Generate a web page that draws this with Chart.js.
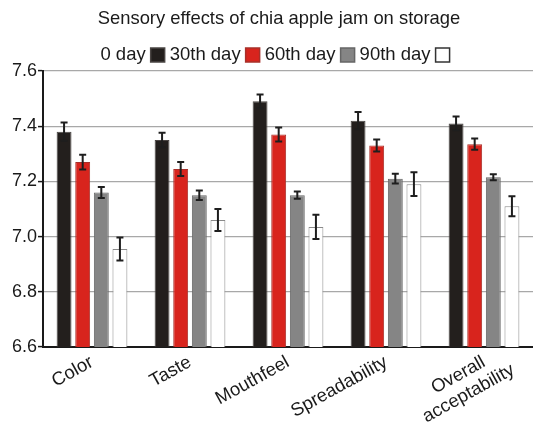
<!DOCTYPE html>
<html>
<head>
<meta charset="utf-8">
<script src="https://cdn.jsdelivr.net/npm/chart.js@4/dist/chart.umd.min.js"></script>
<style>
  body { margin: 0; background: #fff; }
  #wrap { width: 533px; height: 424px; }
</style>
</head>
<body>
<div id="wrap"><canvas id="jamChart" width="533" height="424"></canvas></div>
<script>
const categories = ['Color', 'Taste', 'Mouthfeel', 'Spreadability', ['Overall', 'acceptability']];
const seriesNames = ['0 day', '30th day', '60th day', '90th day'];
const day0 = [7.38, 7.35, 7.49, 7.42, 7.41];
const day30 = [7.27, 7.245, 7.37, 7.33, 7.335];
const day60 = [7.16, 7.15, 7.15, 7.21, 7.215];
const day90 = [6.955, 7.06, 7.035, 7.19, 7.11];
const day0Err = [0.033, 0.026, 0.025, 0.031, 0.025];
const day30Err = [0.027, 0.025, 0.025, 0.022, 0.020];
const day60Err = [0.020, 0.017, 0.013, 0.018, 0.011];
const day90Err = [0.042, 0.040, 0.044, 0.043, 0.036];
const yTicks = [6.6, 6.8, 7.0, 7.2, 7.4, 7.6];
const chartTitle = 'Sensory effects of chia apple jam on storage';

const fills = ['#231f1d', '#d8241d', '#858585', '#ffffff'];
const borders = ['#4a4543', '#a8302a', '#666666', '#8a8a8a'];
const errs = [day0Err, day30Err, day60Err, day90Err];
const font = 'Liberation Sans, Arial, sans-serif';

// error bars drawn on top of the bars
const errorBars = {
    id: 'errorBars',
    afterDatasetsDraw(chart) {
        const ctx = chart.ctx;
        const y = chart.scales.y;
        ctx.save();
        ctx.strokeStyle = '#1e1e1e';
        ctx.lineWidth = 2;
        chart.data.datasets.forEach((ds, i) => {
            const meta = chart.getDatasetMeta(i);
            meta.data.forEach((bar, j) => {
                const v = ds.data[j];
                const e = errs[i][j];
                const top = y.getPixelForValue(v + e);
                const bot = y.getPixelForValue(v - e);
                ctx.beginPath();
                ctx.moveTo(bar.x, top);
                ctx.lineTo(bar.x, bot);
                ctx.moveTo(bar.x - 3.5, top);
                ctx.lineTo(bar.x + 3.5, top);
                ctx.moveTo(bar.x - 3.5, bot);
                ctx.lineTo(bar.x + 3.5, bot);
                ctx.stroke();
            });
        });
        ctx.restore();
    }
};

// rotated category labels; two-line label is centred line to line like the source
const slantLabels = {
    id: 'slantLabels',
    afterDraw(chart) {
        const ctx = chart.ctx;
        const xs = chart.scales.x;
        const ang = -29 * Math.PI / 180;
        ctx.save();
        ctx.fillStyle = '#1a1a1a';
        ctx.font = '18.5px ' + font;
        ctx.textAlign = 'right';
        ctx.textBaseline = 'middle';
        categories.forEach((lab, i) => {
            const lines = Array.isArray(lab) ? lab : [lab];
            const w0 = ctx.measureText(lines[0]).width;
            ctx.save();
            ctx.translate(xs.getPixelForTick(i), xs.top + 14);
            ctx.rotate(ang);
            lines.forEach((ln, k) => {
                const w = ctx.measureText(ln).width;
                ctx.fillText(ln, (w - w0) / 2, k * 21);
            });
            ctx.restore();
        });
        ctx.restore();
    }
};

// title, and the legend: the source figure puts each label before its box
const header = {
    id: 'header',
    afterDraw(chart) {
        const ctx = chart.ctx;
        ctx.save();
        ctx.fillStyle = '#1a1a1a';
        ctx.textBaseline = 'middle';
        ctx.textAlign = 'center';
        ctx.font = '18.4px ' + font;
        ctx.fillText(chartTitle, 279, 19);

        ctx.textAlign = 'left';
        ctx.font = '18.5px ' + font;
        const box = 14, gapText = 5, gapItem = 5;
        let total = 0;
        seriesNames.forEach(n => { total += ctx.measureText(n).width + gapText + box + gapItem; });
        total -= gapItem;
        let x = 275 - total / 2;
        const yc = 55;
        seriesNames.forEach((n, i) => {
            ctx.fillStyle = '#1a1a1a';
            ctx.fillText(n, x, yc);
            x += ctx.measureText(n).width + gapText;
            ctx.fillStyle = fills[i];
            ctx.fillRect(x, yc - box / 2, box, box);
            ctx.strokeStyle = i === 3 ? '#333' : borders[i];
            ctx.lineWidth = 1.5;
            ctx.strokeRect(x, yc - box / 2, box, box);
            x += box + gapItem;
        });
        ctx.restore();
    }
};

new Chart(document.getElementById('jamChart').getContext('2d'), {
    type: 'bar',
    data: {
        labels: categories,
        datasets: [day0, day30, day60, day90].map((d, i) => ({
            label: seriesNames[i],
            data: d,
            backgroundColor: fills[i],
            borderColor: borders[i],
            borderWidth: 1,
            categoryPercentage: 0.76,
            barPercentage: 0.8
        }))
    },
    options: {
        responsive: false,
        animation: false,
        layout: { padding: { top: 71, right: 0, left: 2, bottom: 0 } },
        plugins: {
            legend: { display: false },
            tooltip: { enabled: false },
            title: { display: false }
        },
        scales: {
            x: {
                grid: { display: false },
                border: { color: '#1a1a1a', width: 2 },
                ticks: { display: false },
                afterFit(scale) { scale.height = 77; }
            },
            y: {
                min: 6.6,
                max: 7.6,
                afterBuildTicks(scale) { scale.ticks = yTicks.map(v => ({ value: v })); },
                grid: {
                    color: '#a8a8a8',
                    lineWidth: 1.2,
                    tickColor: '#1a1a1a',
                    tickLength: 5,
                    tickWidth: 1.5
                },
                border: { color: '#1a1a1a', width: 2 },
                ticks: {
                    color: '#1a1a1a',
                    font: { family: font, size: 18 },
                    padding: 1,
                    callback: v => v.toFixed(1)
                },
                afterFit(scale) { scale.width = 41; }
            }
        }
    },
    plugins: [errorBars, slantLabels, header]
});
</script>
</body>
</html>
